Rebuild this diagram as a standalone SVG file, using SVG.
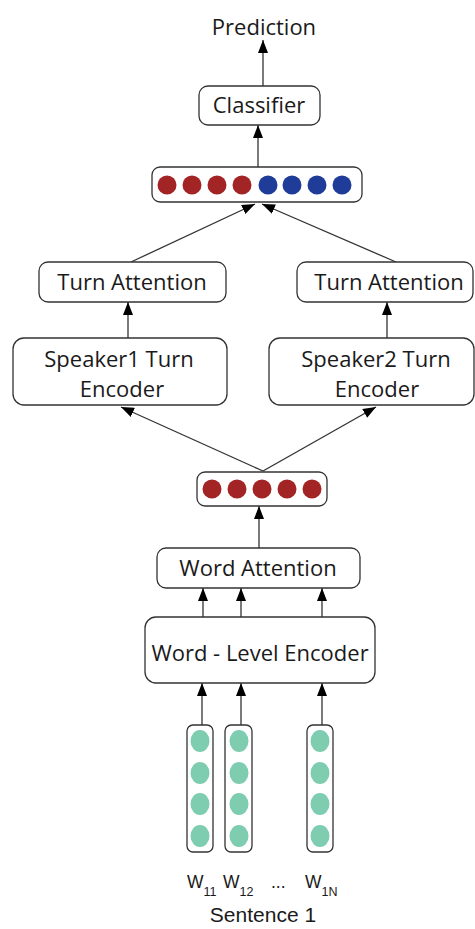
<svg xmlns="http://www.w3.org/2000/svg" width="475" height="929" viewBox="0 0 475 929">
<style>
.box{fill:#fff;stroke:#333;stroke-width:1.3}
.lbl{font-family:"Open Sans","Noto Sans",sans-serif;font-size:22px;fill:#1a1a1a;text-anchor:middle}
.sm{font-family:"Liberation Sans",Arial,sans-serif;fill:#1a1a1a}
.edge{stroke:#333;stroke-width:1.3;fill:none;marker-end:url(#ah)}
.red{fill:#a32424}
.blue{fill:#1f3d98}
.grn{fill:#7fcdb1}
</style>
<defs>
<marker id="ah" markerUnits="userSpaceOnUse" markerWidth="13" markerHeight="10" refX="13" refY="5" orient="auto">
<path d="M0,0 L13,5 L0,10 z" fill="#000"/>
</marker>
</defs>
<g id="connectors">
<line class="edge" x1="263" y1="86" x2="263" y2="40"/>
<line class="edge" x1="258" y1="167" x2="258" y2="125"/>
<line class="edge" x1="131" y1="262" x2="255" y2="204"/>
<line class="edge" x1="396" y1="262" x2="262" y2="204"/>
<line class="edge" x1="128" y1="338" x2="128" y2="302"/>
<line class="edge" x1="387" y1="338" x2="387" y2="302"/>
<line class="edge" x1="263" y1="471" x2="121" y2="407"/>
<line class="edge" x1="263" y1="471" x2="376" y2="407"/>
<line class="edge" x1="259" y1="548" x2="259" y2="506"/>
<line class="edge" x1="203" y1="617" x2="203" y2="588"/>
<line class="edge" x1="241" y1="617" x2="241" y2="588"/>
<line class="edge" x1="322" y1="617" x2="322" y2="588"/>
<line class="edge" x1="202" y1="725" x2="202" y2="683"/>
<line class="edge" x1="241" y1="725" x2="241" y2="683"/>
<line class="edge" x1="322" y1="725" x2="322" y2="683"/>
</g>
<g id="prediction">
<text class="lbl" x="264" y="35">Prediction</text>
</g>
<g id="classifier">
<rect class="box" x="199" y="86" width="121" height="39" rx="9"/>
<text class="lbl" x="259" y="113">Classifier</text>
</g>
<g id="concat-vector">
<rect class="box" x="152" y="167" width="210" height="35" rx="8"/>
<circle class="red" cx="167" cy="185" r="9.5"/>
<circle class="red" cx="192" cy="185" r="9.5"/>
<circle class="red" cx="217" cy="185" r="9.5"/>
<circle class="red" cx="242" cy="185" r="9.5"/>
<circle class="blue" cx="268" cy="185" r="9.5"/>
<circle class="blue" cx="292" cy="185" r="9.5"/>
<circle class="blue" cx="317" cy="185" r="9.5"/>
<circle class="blue" cx="342" cy="185" r="9.5"/>
</g>
<g id="turn-attention-1">
<rect class="box" x="39" y="262" width="187" height="40" rx="9"/>
<text class="lbl" x="132" y="290">Turn Attention</text>
</g>
<g id="turn-attention-2">
<rect class="box" x="297" y="262" width="176" height="40" rx="9"/>
<text class="lbl" x="389" y="290">Turn Attention</text>
</g>
<g id="speaker1-encoder">
<rect class="box" x="13" y="338" width="214" height="67" rx="11"/>
<text class="lbl" x="119" y="367">Speaker1 Turn</text>
<text class="lbl" x="122" y="397">Encoder</text>
</g>
<g id="speaker2-encoder">
<rect class="box" x="269" y="338" width="205" height="67" rx="11"/>
<text class="lbl" x="376" y="367">Speaker2 Turn</text>
<text class="lbl" x="377" y="397">Encoder</text>
</g>
<g id="sentence-vector">
<rect class="box" x="197" y="472" width="130" height="34" rx="8"/>
<circle class="red" cx="212" cy="489" r="9.5"/>
<circle class="red" cx="237" cy="489" r="9.5"/>
<circle class="red" cx="262" cy="489" r="9.5"/>
<circle class="red" cx="287" cy="489" r="9.5"/>
<circle class="red" cx="312" cy="489" r="9.5"/>
</g>
<g id="word-attention">
<rect class="box" x="157" y="548" width="203" height="40" rx="9"/>
<text class="lbl" x="258" y="576">Word Attention</text>
</g>
<g id="word-encoder">
<rect class="box" x="145" y="617" width="230" height="66" rx="11"/>
<text class="lbl" x="260" y="661">Word - Level Encoder</text>
</g>
<g id="word-1">
<rect class="box" x="187" y="725" width="26" height="127" rx="6"/>
<ellipse class="grn" cx="200" cy="741" rx="9.5" ry="11"/>
<ellipse class="grn" cx="200" cy="773" rx="9.5" ry="11"/>
<ellipse class="grn" cx="200" cy="804" rx="9.5" ry="11"/>
<ellipse class="grn" cx="200" cy="836" rx="9.5" ry="11"/>
</g>
<g id="word-2">
<rect class="box" x="225" y="725" width="27" height="127" rx="6"/>
<ellipse class="grn" cx="239" cy="741" rx="9.5" ry="11"/>
<ellipse class="grn" cx="239" cy="773" rx="9.5" ry="11"/>
<ellipse class="grn" cx="239" cy="804" rx="9.5" ry="11"/>
<ellipse class="grn" cx="239" cy="836" rx="9.5" ry="11"/>
</g>
<g id="word-n">
<rect class="box" x="307" y="725" width="26" height="127" rx="6"/>
<ellipse class="grn" cx="320" cy="741" rx="9.5" ry="11"/>
<ellipse class="grn" cx="320" cy="773" rx="9.5" ry="11"/>
<ellipse class="grn" cx="320" cy="804" rx="9.5" ry="11"/>
<ellipse class="grn" cx="320" cy="836" rx="9.5" ry="11"/>
</g>
<g id="labels">
<text class="sm" x="187" y="888" font-size="17.5">W<tspan font-size="12.5" dy="8">11</tspan></text>
<text class="sm" x="223" y="888" font-size="17.5">W<tspan font-size="12.5" dy="8">12</tspan></text>
<text class="sm" x="271" y="888" font-size="17.5">...</text>
<text class="sm" x="305" y="888" font-size="17.5">W<tspan font-size="12.5" dy="8">1N</tspan></text>
<text class="sm" x="263" y="922" font-size="21" text-anchor="middle">Sentence 1</text>
</g>
</svg>
